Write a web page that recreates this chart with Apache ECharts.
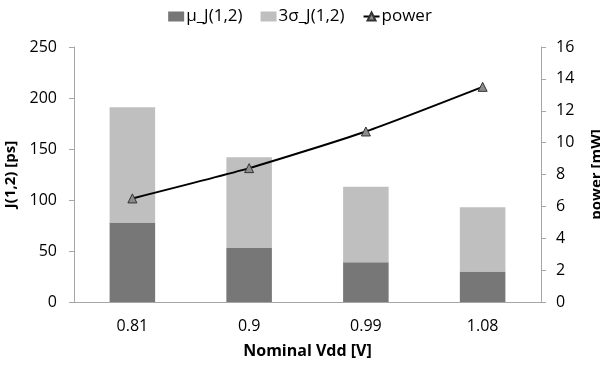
<!DOCTYPE html>
<html>
<head>
<meta charset="UTF-8">
<title></title>
<script src="https://cdn.jsdelivr.net/npm/echarts@6/dist/echarts.min.js"></script>
<style>
  html, body { margin: 0; padding: 0; background: #fff; }
  #main { width: 600px; height: 365px; }
</style>
</head>
<body>
<div id="main"></div>
<script>
// supply voltages on the x axis
var vdd = ['0.81', '0.9', '0.99', '1.08'];
// jitter mean and 3 sigma part, stacked [ps]
var muJ = [78, 53, 39, 30];
var sigma3J = [113, 89, 74, 63];
// power on the right axis [mW]
var power = [6.5, 8.4, 10.7, 13.5];

var font = 'Open Sans';
var axisGrey = '#a6a6a6';

var myChart = echarts.init(document.getElementById('main'));

var option = {
  animation: false,
  textStyle: { fontFamily: font },
  legend: {
    top: 3,
    left: 'center',
    itemGap: 18,
    itemWidth: 16,
    itemHeight: 10,
    textStyle: { fontFamily: font, fontSize: 17, color: '#000', padding: [0, 0, 0, -3] },
    data: [
      { name: 'μ_J(1,2)', icon: 'rect' },
      { name: '3σ_J(1,2)', icon: 'rect' },
      { name: 'power' }
    ]
  },
  grid: { left: 74, right: 59, top: 47, bottom: 63, outerBoundsMode: 'none' },
  xAxis: {
    type: 'category',
    data: vdd,
    name: 'Nominal Vdd [V]',
    nameLocation: 'middle',
    nameGap: 41,
    nameTextStyle: { fontFamily: font, fontSize: 16, fontWeight: 'bold', color: '#000' },
    axisLine: { lineStyle: { color: axisGrey } },
    axisTick: { length: 5, lineStyle: { color: axisGrey } },
    axisLabel: { fontSize: 16, color: '#000', margin: 16 }
  },
  yAxis: [
    {
      type: 'value',
      min: 0, max: 250, interval: 50,
      name: 'J(1,2) [ps]',
      nameLocation: 'middle',
      nameRotate: 90,
      nameGap: 52,
      nameTextStyle: { fontFamily: font, fontSize: 15, fontWeight: 'bold', color: '#000' },
      axisLine: { show: true, lineStyle: { color: axisGrey } },
      axisTick: { show: true, length: 5, lineStyle: { color: axisGrey } },
      axisLabel: { fontSize: 16, color: '#000', margin: 17 },
      splitLine: { show: false }
    },
    {
      type: 'value',
      min: 0, max: 16, interval: 2,
      name: 'power [mW]',
      nameLocation: 'middle',
      nameRotate: 90,
      nameGap: 48,
      nameTextStyle: { fontFamily: font, fontSize: 15, fontWeight: 'bold', color: '#000' },
      axisLine: { show: true, lineStyle: { color: axisGrey } },
      axisTick: { show: true, length: 5, lineStyle: { color: axisGrey } },
      axisLabel: { fontSize: 16, color: '#000', margin: 15 },
      splitLine: { show: false }
    }
  ],
  series: [
    {
      name: 'μ_J(1,2)',
      type: 'bar',
      stack: 'J',
      barWidth: '39%',
      itemStyle: { color: '#777777' },
      data: muJ
    },
    {
      name: '3σ_J(1,2)',
      type: 'bar',
      stack: 'J',
      itemStyle: { color: '#bfbfbf' },
      data: sigma3J
    },
    {
      name: 'power',
      type: 'line',
      yAxisIndex: 1,
      smooth: 0.2,
      symbol: 'triangle',
      symbolSize: 9,
      lineStyle: { color: '#000', width: 2 },
      itemStyle: { color: '#8c8c8c', borderColor: '#333', borderWidth: 1 },
      data: power
    }
  ]
};

myChart.setOption(option);
</script>
</body>
</html>
